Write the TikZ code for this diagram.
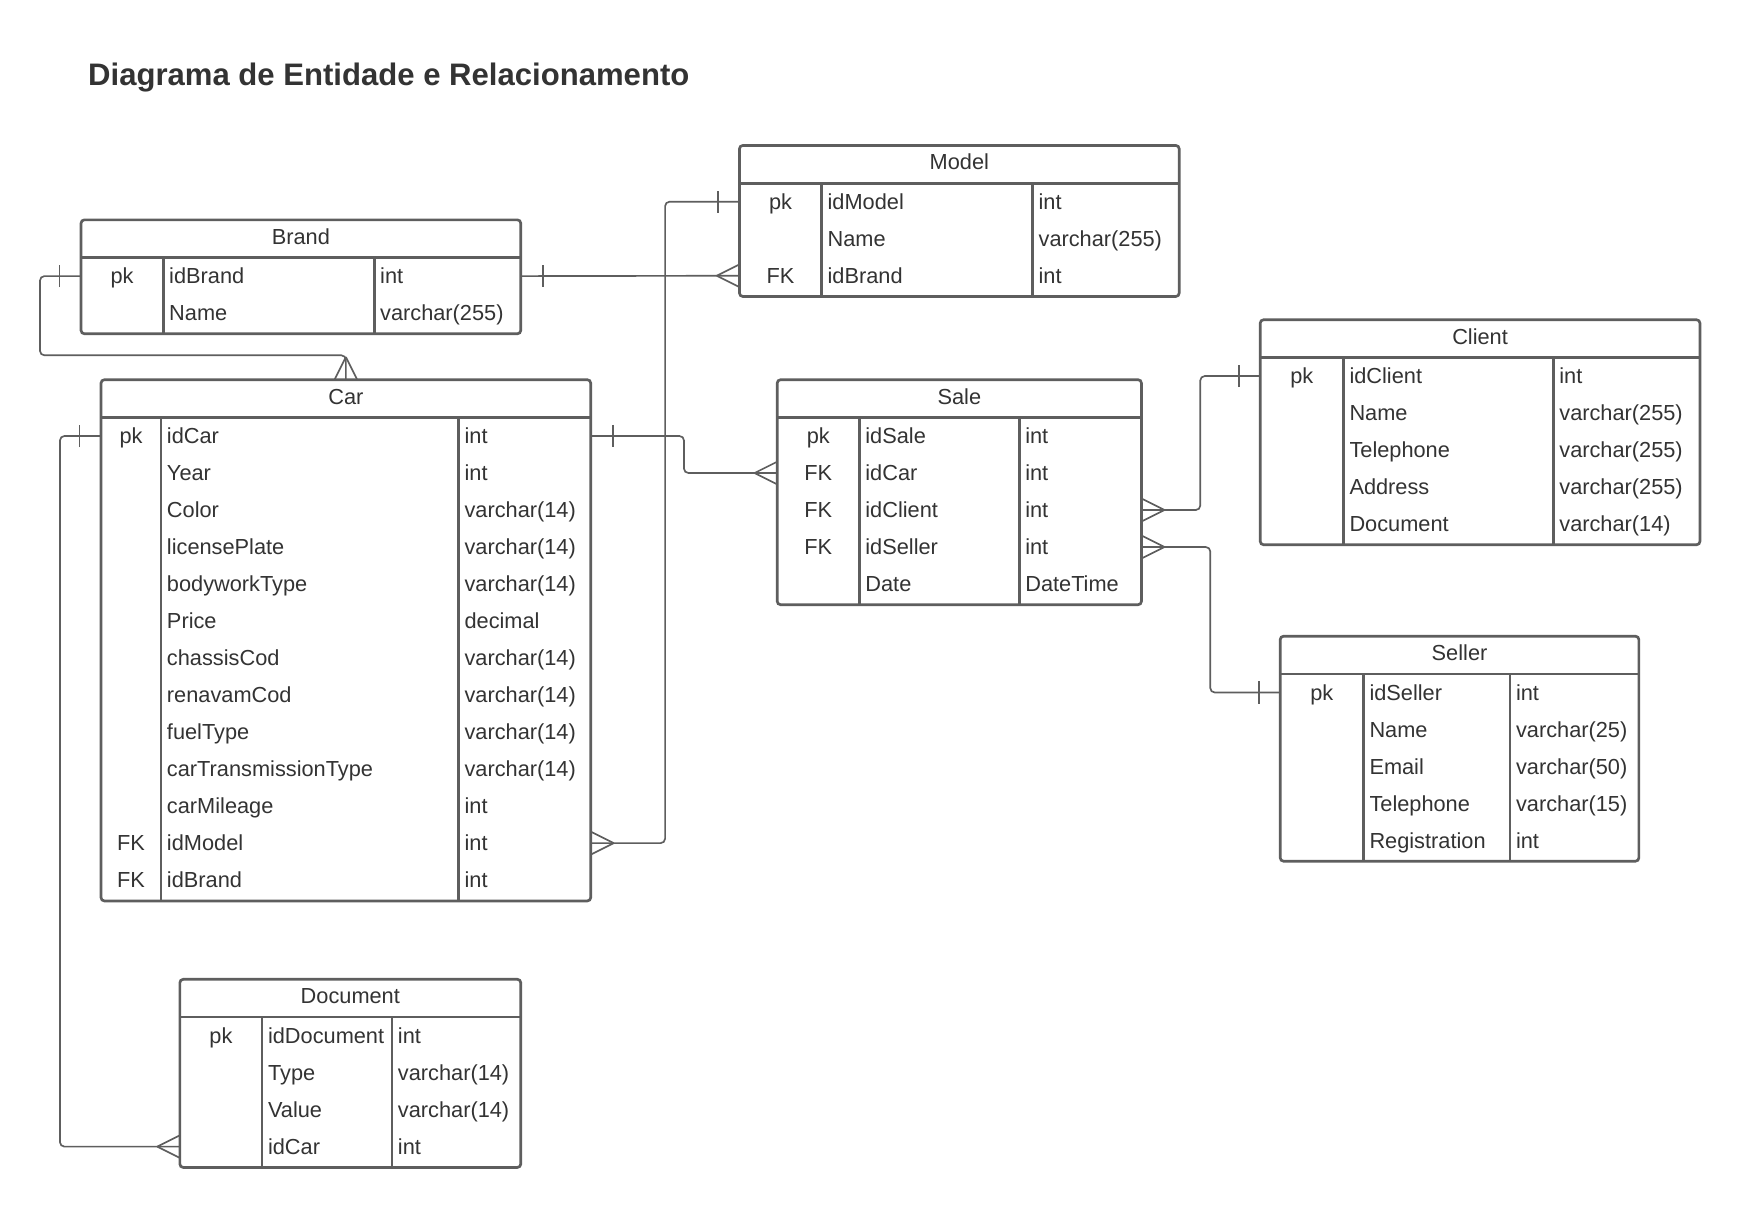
\documentclass[tikz,border=0pt]{standalone}
\usepackage{fontspec}
\setmainfont{Liberation Sans}
\usepackage{tikz}
\definecolor{linegray}{HTML}{5E5E5E}
\definecolor{textgray}{HTML}{333333}

\begin{document}
\begin{tikzpicture}[x=1pt,y=1pt,
  entity/.style={draw=linegray, line width=1.2pt, rounded corners=1.5pt},
  head/.style={text=textgray, font=\fontsize{9.8}{11}\selectfont, minimum height=17pt, inner sep=0pt, text height=7pt, text depth=2pt},
  cell/.style={text=textgray, font=\fontsize{9.8}{11}\selectfont, inner xsep=2.5pt, inner ysep=0pt, minimum height=16.667pt, text height=7pt, text depth=0pt},
  keycell/.style={cell, inner xsep=0pt},
  namecell/.style={cell, anchor=west},
  typecell/.style={cell, anchor=west, align=left},
  conn/.style={draw=linegray, line width=0.75pt, rounded corners=2pt},
  crowfoot/.pic={\draw[conn] (-10pt,0pt) -- (0pt,5pt) (-10pt,0pt) -- (0pt,-5pt);},
  onebar/.pic={\draw[conn] (-9.5pt,-5pt) -- (-9.5pt,5pt);}
]
\fill[white] (0,0) rectangle (784,-544);
\useasboundingbox (0,0) rectangle (784,-544);

\node[anchor=base west, inner sep=0pt, text=textgray, font=\bfseries\fontsize{14}{16}\selectfont] (title) at (39.5,-38.5) {Diagrama de Entidade e Relacionamento};

% Brand
\draw[entity] (36.5,-99) rectangle (234.5,-150.3);
\draw[entity] (36.5,-116) -- (234.5,-116) (73.5,-116) -- (73.5,-150.3) (168.5,-116) -- (168.5,-150.3);
\node[head, minimum width=198pt] (brand) at (135.5,-107.5) {Brand};
\foreach \k/\n/\t [count=\i] in {pk/idBrand/int,/Name/varchar(255)} {
  \node[keycell, minimum width=37pt] (brand-k\i) at (55,{-116-(\i-0.5)*16.667}) {\k};
  \node[namecell] (brand-n\i) at (73.5,{-116-(\i-0.5)*16.667}) {\n};
  \node[typecell, text width=61pt] (brand-t\i) at (168.5,{-116-(\i-0.5)*16.667}) {\t};
}

% Model
\draw[entity] (333,-65.5) rectangle (531,-133.5);
\draw[entity] (333,-82.5) -- (531,-82.5) (370,-82.5) -- (370,-133.5) (465,-82.5) -- (465,-133.5);
\node[head, minimum width=198pt] (model) at (432,-74) {Model};
\foreach \k/\n/\t [count=\i] in {pk/idModel/int,/Name/varchar(255),FK/idBrand/int} {
  \node[keycell, minimum width=37pt] (model-k\i) at (351.5,{-82.5-(\i-0.5)*16.667}) {\k};
  \node[namecell] (model-n\i) at (370,{-82.5-(\i-0.5)*16.667}) {\n};
  \node[typecell, text width=61pt] (model-t\i) at (465,{-82.5-(\i-0.5)*16.667}) {\t};
}

% Car
\draw[entity] (45.5,-171) rectangle (266,-405.7);
\draw[entity] (45.5,-188) -- (266,-188) (72.5,-188) -- (72.5,-405.7) (206.5,-188) -- (206.5,-405.7);
\node[head, minimum width=220.5pt] (car) at (155.75,-179.5) {Car};
\foreach \k/\n/\t [count=\i] in {pk/idCar/int,/Year/int,/Color/varchar(14),/licensePlate/varchar(14),
    /bodyworkType/varchar(14),/Price/decimal,/chassisCod/varchar(14),/renavamCod/varchar(14),
    /fuelType/varchar(14),/carTransmissionType/varchar(14),/carMileage/int,FK/idModel/int,FK/idBrand/int} {
  \node[keycell, minimum width=27pt] (car-k\i) at (59,{-188-(\i-0.5)*16.667}) {\k};
  \node[namecell] (car-n\i) at (72.5,{-188-(\i-0.5)*16.667}) {\n};
  \node[typecell, text width=54.5pt] (car-t\i) at (206.5,{-188-(\i-0.5)*16.667}) {\t};
}

% Sale
\draw[entity] (350,-171) rectangle (514,-272.3);
\draw[entity] (350,-188) -- (514,-188) (387,-188) -- (387,-272.3) (459,-188) -- (459,-272.3);
\node[head, minimum width=164pt] (sale) at (432,-179.5) {Sale};
\foreach \k/\n/\t [count=\i] in {pk/idSale/int,FK/idCar/int,FK/idClient/int,FK/idSeller/int,/Date/DateTime} {
  \node[keycell, minimum width=37pt] (sale-k\i) at (368.5,{-188-(\i-0.5)*16.667}) {\k};
  \node[namecell] (sale-n\i) at (387,{-188-(\i-0.5)*16.667}) {\n};
  \node[typecell, text width=50pt] (sale-t\i) at (459,{-188-(\i-0.5)*16.667}) {\t};
}

% Client
\draw[entity] (567.5,-144) rectangle (765.5,-245.3);
\draw[entity] (567.5,-161) -- (765.5,-161) (605,-161) -- (605,-245.3) (699.5,-161) -- (699.5,-245.3);
\node[head, minimum width=198pt] (client) at (666.5,-152.5) {Client};
\foreach \k/\n/\t [count=\i] in {pk/idClient/int,/Name/varchar(255),/Telephone/varchar(255),/Address/varchar(255),/Document/varchar(14)} {
  \node[keycell, minimum width=37.5pt] (client-k\i) at (586.25,{-161-(\i-0.5)*16.667}) {\k};
  \node[namecell] (client-n\i) at (605,{-161-(\i-0.5)*16.667}) {\n};
  \node[typecell, text width=61pt] (client-t\i) at (699.5,{-161-(\i-0.5)*16.667}) {\t};
}

% Seller
\draw[entity] (576.5,-286.5) rectangle (738,-387.8);
\draw[entity] (576.5,-303.5) -- (738,-303.5) (614,-303.5) -- (614,-387.8) (680,-303.5) -- (680,-387.8);
\node[head, minimum width=161.5pt] (seller) at (657.25,-295) {Seller};
\foreach \k/\n/\t [count=\i] in {pk/idSeller/int,/Name/varchar(25),/Email/varchar(50),/Telephone/varchar(15),/Registration/int} {
  \node[keycell, minimum width=37.5pt] (seller-k\i) at (595.25,{-303.5-(\i-0.5)*16.667}) {\k};
  \node[namecell] (seller-n\i) at (614,{-303.5-(\i-0.5)*16.667}) {\n};
  \node[typecell, text width=53pt] (seller-t\i) at (680,{-303.5-(\i-0.5)*16.667}) {\t};
}

% Document
\draw[entity] (81,-441) rectangle (234.5,-525.7);
\draw[entity] (81,-458) -- (234.5,-458) (118,-458) -- (118,-525.7) (176.5,-458) -- (176.5,-525.7);
\node[head, minimum width=153.5pt] (doc) at (157.75,-449.5) {Document};
\foreach \k/\n/\t [count=\i] in {pk/idDocument/int,/Type/varchar(14),/Value/varchar(14),/idCar/int} {
  \node[keycell, minimum width=37pt] (doc-k\i) at (99.5,{-458-(\i-0.5)*16.667}) {\k};
  \node[namecell] (doc-n\i) at (118,{-458-(\i-0.5)*16.667}) {\n};
  \node[typecell, text width=53pt] (doc-t\i) at (176.5,{-458-(\i-0.5)*16.667}) {\t};
}

% relationships
\draw[conn] (brand-k1.west) -| (18,-160) -| (car.north);
\pic at (brand-k1.west) {onebar};
\pic[rotate=-90] at (car.north) {crowfoot};

\draw[conn] (brand-t1.east) -- (model-k3.west);
\pic[rotate=180] at (brand-t1.east) {onebar};
\pic at (model-k3.west) {crowfoot};

\draw[conn] (model-k1.west) -| (299.5,-250) |- (car-t12.east);
\pic at (model-k1.west) {onebar};
\pic[rotate=180] at (car-t12.east) {crowfoot};

\draw[conn] (car-t1.east) -| (308,-205) |- (sale-k2.west);
\pic[rotate=180] at (car-t1.east) {onebar};
\pic at (sale-k2.west) {crowfoot};

\draw[conn] (car-k1.west) -| (27,-300) |- (doc-k4.west);
\pic at (car-k1.west) {onebar};
\pic at (doc-k4.west) {crowfoot};

\draw[conn] (client-k1.west) -| (540.5,-200) |- (sale-t3.east);
\pic at (client-k1.west) {onebar};
\pic[rotate=180] at (sale-t3.east) {crowfoot};

\draw[conn] (sale-t4.east) -| (545,-280) |- (seller-k1.west);
\pic[rotate=180] at (sale-t4.east) {crowfoot};
\pic at (seller-k1.west) {onebar};

\end{tikzpicture}
\end{document}
